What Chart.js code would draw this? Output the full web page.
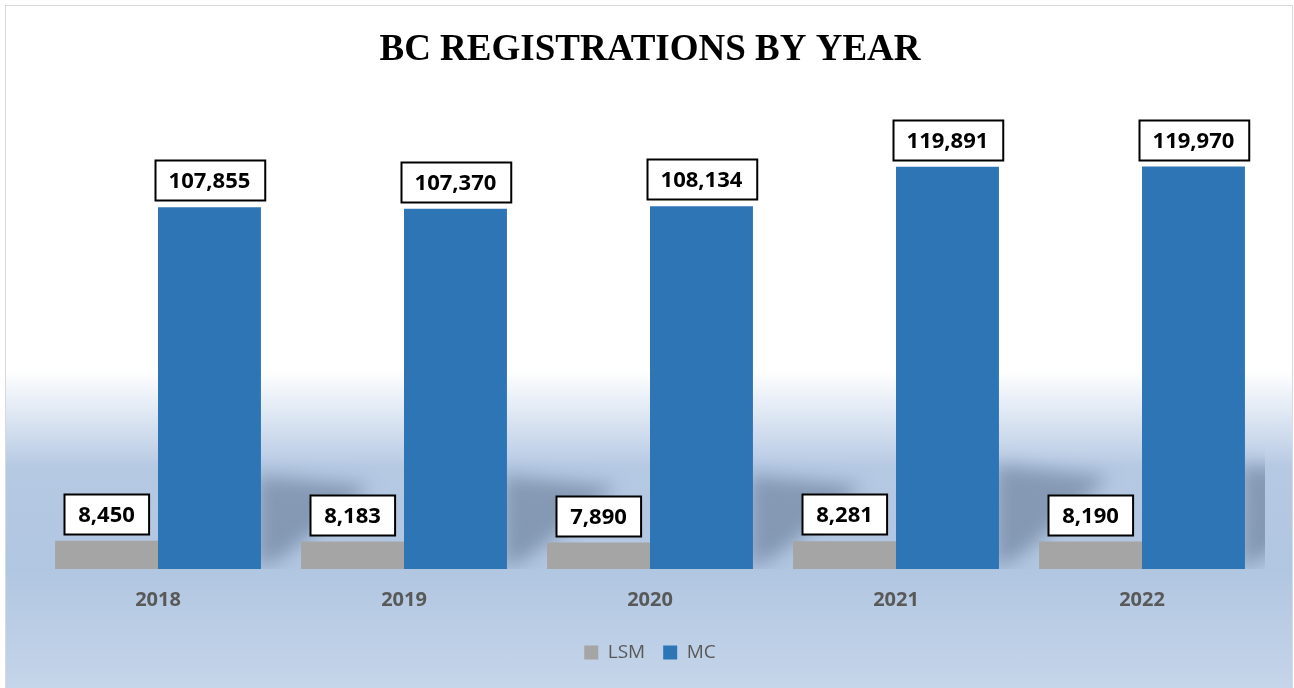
<!DOCTYPE html>
<html>
<head>
<meta charset="utf-8">
<title>BC Registrations by Year</title>
<script src="https://cdn.jsdelivr.net/npm/chart.js@4.4.1/dist/chart.umd.min.js"></script>
<style>
  html, body { margin: 0; padding: 0; background: #fff; overflow: hidden; }
  .frame {
    position: absolute;
    left: 5px;
    top: 5px;
    width: 1288px;
    height: 690px;
    box-sizing: border-box;
    border: 1px solid #d9d9d9;
    background: linear-gradient(to bottom, #ffffff 0%, #ffffff 53%, #dbe5f2 60%, #b6c9e3 67%, #b1c6e1 82%, #c6d6ea 100%);
  }
  .frame canvas { display: block; }
</style>
</head>
<body>
<div class="frame">
  <canvas id="regChart" width="1286" height="688"></canvas>
</div>
<script>
// 연도별 등록 데이터
const years = ['2018', '2019', '2020', '2021', '2022'];
const lsmValues = [8450, 8183, 7890, 8281, 8190];
const mcValues = [107855, 107370, 108134, 119891, 119970];

const GRAY = '#a5a5a5';
const BLUE = '#2e75b6';

// MC 막대 뒤쪽 그림자
const shadowPlugin = {
  id: 'barShadow',
  beforeDatasetsDraw(chart) {
    const c = chart.ctx;
    const area = chart.chartArea;
    const meta = chart.getDatasetMeta(1);
    c.save();
    c.beginPath();
    c.rect(area.left, area.top, area.right - area.left, area.bottom - area.top);
    c.clip();
    c.filter = 'blur(9px)';
    c.fillStyle = 'rgba(75, 95, 125, 0.45)';
    meta.data.forEach(bar => {
      const r = bar.x + bar.width / 2;
      const b = bar.base;
      const h = b - bar.y;
      c.beginPath();
      c.moveTo(r - 4, b - 0.26 * h);
      c.lineTo(r + 110, b - 0.23 * h);
      c.lineTo(r + 25, b - 0.04 * h);
      c.lineTo(r - 4, b);
      c.closePath();
      c.fill();
    });
    c.restore();
  }
};

// 값 라벨 박스
const boxLabelPlugin = {
  id: 'boxLabels',
  afterDatasetsDraw(chart) {
    const c = chart.ctx;
    c.save();
    c.font = 'bold 22px "Open Sans"';
    c.textAlign = 'center';
    c.textBaseline = 'middle';
    chart.data.datasets.forEach((ds, di) => {
      chart.getDatasetMeta(di).data.forEach((bar, i) => {
        const text = ds.data[i].toLocaleString('en-US');
        const w = c.measureText(text).width + 28;
        const h = 40;
        const x = Math.round(bar.x - w / 2) + 0.5;
        const y = Math.round(bar.y - 7 - h) + 0.5;
        c.fillStyle = '#ffffff';
        c.fillRect(x, y, w, h);
        c.strokeStyle = '#000000';
        c.lineWidth = 2;
        c.strokeRect(x, y, w, h);
        c.fillStyle = '#000000';
        c.fillText(text, bar.x, y + h / 2 + 1);
      });
    });
    c.restore();
  }
};

new Chart(document.getElementById('regChart'), {
  type: 'bar',
  data: {
    labels: years,
    datasets: [
      {
        label: 'LSM',
        data: lsmValues,
        backgroundColor: GRAY,
        categoryPercentage: 0.837,
        barPercentage: 1.0
      },
      {
        label: 'MC',
        data: mcValues,
        backgroundColor: BLUE,
        categoryPercentage: 0.837,
        barPercentage: 1.0
      }
    ]
  },
  options: {
    responsive: false,
    animation: false,
    layout: {
      padding: { left: 29, right: 27, top: 0, bottom: 22 }
    },
    plugins: {
      title: {
        display: true,
        text: 'BC REGISTRATIONS BY YEAR',
        color: '#000000',
        font: { family: '"Liberation Serif"', size: 37, weight: 'bold' },
        padding: { top: 22, bottom: 27 }
      },
      legend: {
        position: 'bottom',
        labels: {
          color: '#595959',
          font: { family: '"Open Sans"', size: 19 },
          boxWidth: 14,
          boxHeight: 14,
          padding: 18
        }
      },
      tooltip: { enabled: false }
    },
    scales: {
      x: {
        grid: { display: false, drawTicks: false },
        border: { display: false },
        ticks: {
          color: '#595959',
          font: { family: '"Open Sans"', size: 20, weight: 'bold' },
          padding: 19
        },
        afterFit(scale) {
          scale.height = 56;
        }
      },
      y: {
        display: false,
        min: 0,
        max: 140000
      }
    }
  },
  plugins: [shadowPlugin, boxLabelPlugin]
});
</script>
</body>
</html>
